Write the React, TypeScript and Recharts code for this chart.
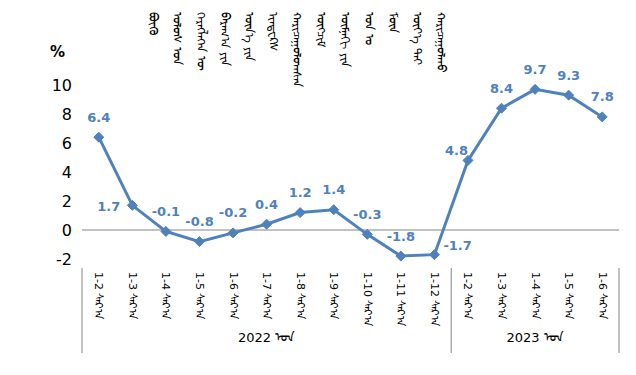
import { LineChart, Line, XAxis, YAxis, ReferenceLine, LabelList } from "recharts";

const months = [
  "1-2 ᠰᠠᠷ᠎ᠠ", "1-3 ᠰᠠᠷ᠎ᠠ", "1-4 ᠰᠠᠷ᠎ᠠ", "1-5 ᠰᠠᠷ᠎ᠠ", "1-6 ᠰᠠᠷ᠎ᠠ", "1-7 ᠰᠠᠷ᠎ᠠ",
  "1-8 ᠰᠠᠷ᠎ᠠ", "1-9 ᠰᠠᠷ᠎ᠠ", "1-10 ᠰᠠᠷ᠎ᠠ", "1-11 ᠰᠠᠷ᠎ᠠ", "1-12 ᠰᠠᠷ᠎ᠠ",
  "1-2 ᠰᠠᠷ᠎ᠠ", "1-3 ᠰᠠᠷ᠎ᠠ", "1-4 ᠰᠠᠷ᠎ᠠ", "1-5 ᠰᠠᠷ᠎ᠠ", "1-6 ᠰᠠᠷ᠎ᠠ",
];
const values = [6.4, 1.7, -0.1, -0.8, -0.2, 0.4, 1.2, 1.4, -0.3, -1.8, -1.7, 4.8, 8.4, 9.7, 9.3, 7.8];
const years = ["2022 ᠣᠨ", "2023 ᠣᠨ"];
// first index of each year group
const groupStart = [0, 11];
const yTicks = [-2, 0, 2, 4, 6, 8, 10];
const titleCols = [
  "ᠪᠦᠬᠦ", "ᠤᠯᠤᠰ ᠤᠨ", "ᠬᠡᠷᠡᠭᠯᠡᠭᠡᠨ ᠦ", "ᠪᠠᠷᠠᠭ᠎ᠠ ᠶᠢᠨ", "ᠦᠨ᠎ᠡ ᠶᠢᠨ", "ᠢᠨᠳᠧᠺᠰ",
  "ᠬᠠᠷᠢᠴᠠᠭᠤᠯᠤᠭᠰᠠᠨ", "ᠥᠭᠴᠢᠮ", "ᠥᠮᠨᠡᠬᠢ ᠶᠢᠨ", "ᠣᠨ ᠤ", "ᠮᠥᠨ", "ᠦᠶ᠎ᠡ ᠲᠡᠢ", "ᠬᠠᠷᠢᠴᠠᠭᠤᠯᠬᠤ",
];

const data = months.map((m, i) => ({ month: m, value: values[i] }));

const BLUE = "#4F81BD";
const FONT = "'DejaVu Sans', sans-serif";
const W = 636;
const H = 375;
const M = { top: 85, right: 17, bottom: 0, left: 0 };
const Y_W = 82;
const BAND = (W - Y_W - M.right) / months.length;

// label placement for a few points that sit beside the line
const side: Record<number, string> = { 1: "left", 10: "right", 11: "upleft" };

const Diamond = (props: any) => {
  const { cx, cy } = props;
  if (cx == null || cy == null) return null;
  const r = 5;
  return (
    <polygon
      points={`${cx},${cy - r} ${cx + r},${cy} ${cx},${cy + r} ${cx - r},${cy}`}
      fill={BLUE}
      stroke={BLUE}
    />
  );
};

const ValueLabel = (props: any) => {
  const { x, y, value, index } = props;
  let tx = x;
  let ty = y - 20;
  let anchor = "middle";
  if (side[index] === "left") {
    tx = x - 12;
    ty = y + 1;
    anchor = "end";
  } else if (side[index] === "right") {
    tx = x + 9;
    ty = y - 9;
    anchor = "start";
  } else if (side[index] === "upleft") {
    tx = x;
    ty = y - 10;
    anchor = "end";
  }
  return (
    <text x={tx} y={ty} textAnchor={anchor} dominantBaseline="central" fill={BLUE} fontSize={13} fontWeight="bold" fontFamily={FONT}>
      {value.toFixed(1)}
    </text>
  );
};

const MonthTick = (props: any) => {
  const { x, y, payload } = props;
  const i = payload.index;
  const half = BAND / 2;
  const gi = groupStart.indexOf(i);
  const lastOfGroup = groupStart.includes(i + 1) || i === months.length - 1;
  let yearLabel = null;
  groupStart.forEach((s, g) => {
    const end = g + 1 < groupStart.length ? groupStart[g + 1] - 1 : months.length - 1;
    const mid = (s + end) / 2;
    if (Math.floor(mid) === i) {
      const shift = (mid - i) * BAND;
      yearLabel = (
        <text x={x + shift} y={y + 75} textAnchor="middle" fontSize={13} fill="#000" fontFamily={FONT}>
          {years[g]}
        </text>
      );
    }
  });
  return (
    <g>
      <text
        transform={`translate(${x},${y + 5}) rotate(90)`}
        textAnchor="start"
        dominantBaseline="central"
        fontSize={11}
        fill="#000"
        fontFamily={FONT}
      >
        {months[i]}
      </text>
      {gi === 0 && <line x1={x - half} x2={x - half} y1={y + 1} y2={y + 86} stroke="#868686" />}
      {lastOfGroup && <line x1={x + half} x2={x + half} y1={y + 1} y2={y + 86} stroke="#868686" />}
      {yearLabel}
    </g>
  );
};

export default function App() {
  return (
    <div style={{ position: "absolute", left: 0, top: 0, width: W, height: H, background: "#fff", fontFamily: FONT }}>
      <div style={{ position: "absolute", left: 141, top: 12, display: "flex" }}>
        {titleCols.map((c, i) => (
          <div key={i} style={{ writingMode: "vertical-lr", whiteSpace: "nowrap", fontSize: 12, width: 24, lineHeight: "24px", color: "#000" }}>
            {c}
          </div>
        ))}
      </div>
      <div style={{ position: "absolute", left: 50, top: 43, fontSize: 15, fontWeight: "bold" }}>%</div>
      <LineChart width={W} height={H} data={data} margin={M}>
        <XAxis
          dataKey="month"
          interval={0}
          axisLine={false}
          tickLine={false}
          height={116}
          padding={{ left: BAND / 2, right: BAND / 2 }}
          tick={<MonthTick />}
        />
        <YAxis
          domain={[-2, 10]}
          ticks={yTicks}
          width={Y_W}
          axisLine={false}
          tickLine={false}
          tickSize={0}
          tickMargin={10}
          tick={{ fontSize: 16, fill: "#000", fontFamily: FONT }}
        />
        <ReferenceLine y={0} stroke="#868686" />
        <Line
          dataKey="value"
          stroke={BLUE}
          strokeWidth={3}
          dot={<Diamond />}
          isAnimationActive={false}
        >
          <LabelList dataKey="value" content={<ValueLabel />} />
        </Line>
      </LineChart>
    </div>
  );
}
